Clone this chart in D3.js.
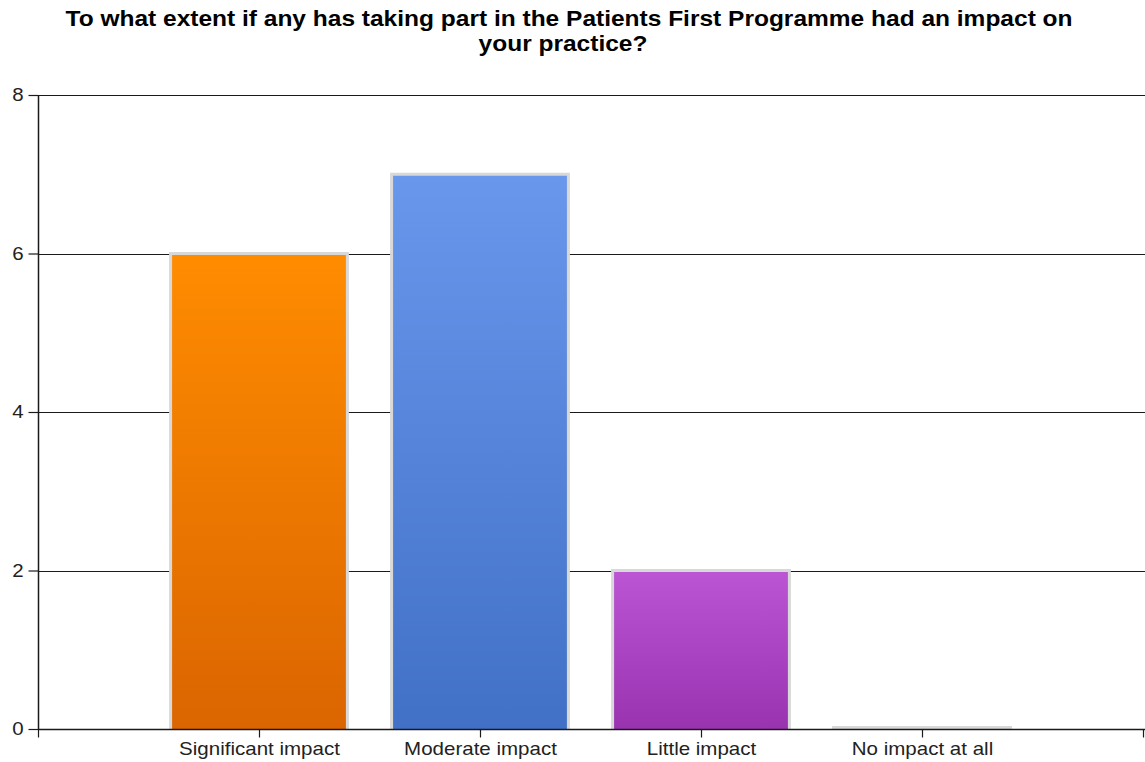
<!DOCTYPE html>
<html>
<head>
<meta charset="utf-8">
<script src="https://cdn.jsdelivr.net/npm/d3@7"></script>
<style>
  html, body { margin: 0; padding: 0; background: #fff; }
  svg { display: block; }
</style>
</head>
<body>
<svg id="chart" width="1145" height="762"></svg>
<script>
// Survey responses
const categories = ["Significant impact", "Moderate impact", "Little impact", "No impact at all"];
const counts = [6, 7, 2, 0];
const yTicks = [0, 2, 4, 6, 8];
const titleLines = [
  "To what extent if any has taking part in the Patients First Programme had an impact on",
  "your practice?"
];
const barColors = [
  ["#ff8c00", "#db6500"],
  ["#6897ec", "#4170c7"],
  ["#bb55d4", "#9a33b0"],
  ["#cccccc", "#aaaaaa"]
];

const svg = d3.select("#chart");
const W = 1145, H = 762;
const plotLeft = 38, plotRight = 1143, plotTop = 95, plotBottom = 729;
const textStretch = 1.14;   // text is drawn slightly widened
const fontFamily = "Liberation Sans, Arial, sans-serif";

// Category slots: one empty slot on each side of the four categories
const x = d3.scaleLinear().domain([0, categories.length + 1]).range([plotLeft, plotRight]);
const step = x(1) - x(0);
const barW = step * 0.8;
const y = d3.scaleLinear().domain([0, 8]).range([plotBottom, plotTop]);

// Gradients
const defs = svg.append("defs");
barColors.forEach((c, i) => {
  const g = defs.append("linearGradient").attr("id", "grad" + i)
    .attr("x1", 0).attr("y1", 0).attr("x2", 0).attr("y2", 1);
  g.append("stop").attr("offset", "0%").attr("stop-color", c[0]);
  g.append("stop").attr("offset", "100%").attr("stop-color", c[1]);
});

// Title
svg.append("g").selectAll("text").data(titleLines).join("text")
  .attr("transform", (d, i) => `translate(${i === 0 ? 569 : 563},${26 + i * 25}) scale(${textStretch},1)`)
  .attr("text-anchor", "middle")
  .attr("font-family", fontFamily)
  .attr("font-weight", "bold").attr("font-size", 21.5)
  .attr("fill", "#000")
  .text(d => d);

// Horizontal gridlines
svg.append("g").selectAll("line").data(yTicks.filter(t => t > 0)).join("line")
  .attr("x1", plotLeft).attr("x2", W)
  .attr("y1", d => Math.round(y(d)) + 0.5).attr("y2", d => Math.round(y(d)) + 0.5)
  .attr("stroke", "#1a1a1a").attr("stroke-width", 1.2);

// Bars (outline drawn as a path so an empty bar still shows its edge)
const bars = svg.append("g");
bars.selectAll("rect").data(counts).join("rect")
  .attr("x", (d, i) => x(i + 1) - barW / 2)
  .attr("width", barW)
  .attr("y", d => y(d))
  .attr("height", d => Math.max(0, plotBottom - y(d)))
  .attr("fill", (d, i) => `url(#grad${i})`);
bars.selectAll("path").data(counts).join("path")
  .attr("d", (d, i) => {
    const x0 = x(i + 1) - barW / 2, x1 = x(i + 1) + barW / 2;
    const y0 = y(d) - (d === 0 ? 1.5 : 0);
    return `M${x0},${plotBottom}V${y0}H${x1}V${plotBottom}` + (d === 0 ? `M${x0},${y0}H${x1}` : "");
  })
  .attr("fill", "none")
  .attr("stroke", "#d8d8d8").attr("stroke-width", 3);

// Y axis
const yAxis = d3.axisLeft(y).tickValues(yTicks).tickSize(10).tickPadding(3).tickFormat(d3.format("d"));
const gy = svg.append("g").attr("transform", `translate(${plotLeft + 0.5},0)`).call(yAxis);
gy.select(".domain").attr("stroke", "#1a1a1a").attr("stroke-width", 1.5).attr("d", `M0,${plotTop}V${plotBottom + 1}`);
gy.selectAll(".tick line").attr("stroke", "#1a1a1a").attr("stroke-width", 1.2);
gy.selectAll(".tick text").attr("font-family", fontFamily)
  .attr("font-size", 18).attr("fill", "#222")
  .attr("transform", `scale(${textStretch},1)`);

// X axis: ticks at every slot, labels on the category slots
const slots = d3.range(categories.length + 2);
const xAxis = d3.axisBottom(x).tickValues(slots).tickSize(8).tickPadding(5)
  .tickFormat(i => (i >= 1 && i <= categories.length) ? categories[i - 1] : "");
const gx = svg.append("g").attr("transform", `translate(0,${plotBottom + 0.5})`).call(xAxis);
gx.select(".domain").attr("stroke", "#1a1a1a").attr("stroke-width", 1.5).attr("d", `M${plotLeft},0H${W}`);
gx.selectAll(".tick line").attr("stroke", "#1a1a1a").attr("stroke-width", 1.2);
gx.selectAll(".tick text").attr("font-family", fontFamily)
  .attr("font-size", 18).attr("fill", "#222")
  .attr("transform", `scale(${textStretch},1)`);
</script>
</body>
</html>
